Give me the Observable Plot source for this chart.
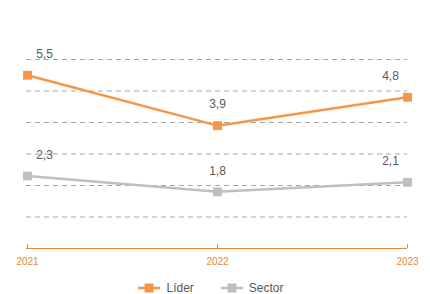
<!DOCTYPE html>
<html><head><meta charset="utf-8">
<script src="https://cdn.jsdelivr.net/npm/d3@7"></script>
<script src="https://cdn.jsdelivr.net/npm/@observablehq/plot@0.6"></script>
<style>
body{margin:0;background:#fff;font-family:"Liberation Sans",Arial,sans-serif;overflow:hidden}
#legend{display:flex;justify-content:center;gap:27px;font-size:12px;color:#595959;height:24px;align-items:center;margin-top:6px;margin-left:-8px}
.item{display:flex;align-items:center;gap:6px}
</style></head><body>
<div id="chart"></div>
<div id="legend"></div>
<script>
const years = ["2021","2022","2023"];
const series = ["Líder","Sector"];
const lider = [5.5, 3.9, 4.8];
const sector = [2.3, 1.8, 2.1];
const colors = ["#F79646","#BFBFBF"];
const gridValues = [1,2,3,4,5,6];

const data = [];
years.forEach((y,i)=>{ data.push({year:y, series:"Líder", v:lider[i]}); data.push({year:y, series:"Sector", v:sector[i]}); });
const fmt = v => v.toFixed(1).replace(".", ",");

const textOpts = {x:"year", y:"v", text:d=>fmt(d.v), fill:"#595959", fontSize:12, dy:-21};
const plot = Plot.plot({
  width:430, height:270,
  marginTop:59, marginBottom:22, marginLeft:26, marginRight:23,
  style:{fontFamily:"Liberation Sans, Arial, sans-serif", background:"#fff"},
  x:{type:"point", domain:years, padding:0, label:null},
  y:{domain:[0,6], axis:null},
  color:{domain:series, range:colors},
  marks:[
    Plot.ruleY(gridValues, {stroke:"#A6A6A6", strokeDasharray:"5,4", strokeWidth:1}),
    Plot.ruleY([0], {stroke:"#E8883A", strokeWidth:1}),
    Plot.ruleX(years, {x:d=>d, y1:0, y2:0, insetTop:-4, stroke:"#E8883A"}),
    Plot.axisX({tickSize:0, tickPadding:9, fill:"#E8883A", fontSize:10, label:null}),
    Plot.line(data, {x:"year", y:"v", z:"series", stroke:"series", strokeWidth:2.5}),
    Plot.dot(data, {x:"year", y:"v", fill:"series", symbol:"square", r:5}),
    Plot.text(data, {...textOpts, filter:d=>d.year===years[0], dx:17}),
    Plot.text(data, {...textOpts, filter:d=>d.year===years[1]}),
    Plot.text(data, {...textOpts, filter:d=>d.year===years[2], dx:-17})
  ]
});
document.getElementById("chart").appendChild(plot);

const lg = document.getElementById("legend");
series.forEach((s,i)=>{
  const it = document.createElement("div"); it.className="item";
  it.innerHTML = `<svg width="22" height="10"><line x1="0" x2="22" y1="5" y2="5" stroke="${colors[i]}" stroke-width="2.5"/><rect x="6.5" y="0.5" width="9" height="9" fill="${colors[i]}"/></svg><span>${s}</span>`;
  lg.appendChild(it);
});
</script>
</body></html>
